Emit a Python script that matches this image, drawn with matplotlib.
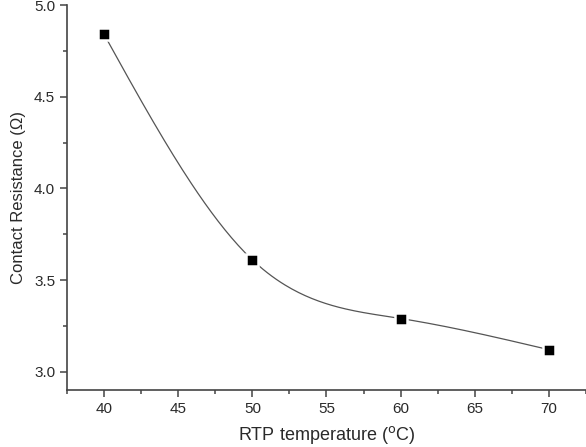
"""
Contact resistance vs RTP temperature
"""

import numpy as np
import matplotlib.pyplot as plt
from matplotlib.ticker import MultipleLocator

plt.rcParams["font.family"] = ["Liberation Sans", "DejaVu Sans"]

temperature = [40, 50, 60, 70]
resistance = [4.84, 3.61, 3.29, 3.12]


def natural_spline(x, y, n=200):
    # natural cubic spline through the measured points (for the smooth guide line)
    x = np.asarray(x, float)
    y = np.asarray(y, float)
    h = np.diff(x)
    m = len(x)
    A = np.zeros((m, m))
    b = np.zeros(m)
    A[0, 0] = A[-1, -1] = 1
    for i in range(1, m - 1):
        A[i, i - 1] = h[i - 1]
        A[i, i] = 2 * (h[i - 1] + h[i])
        A[i, i + 1] = h[i]
        b[i] = 6 * ((y[i + 1] - y[i]) / h[i] - (y[i] - y[i - 1]) / h[i - 1])
    M = np.linalg.solve(A, b)
    xs = np.linspace(x[0], x[-1], n)
    idx = np.clip(np.searchsorted(x, xs) - 1, 0, m - 2)
    x0, x1 = x[idx], x[idx + 1]
    hh = x1 - x0
    ys = (M[idx] * (x1 - xs) ** 3 / (6 * hh) + M[idx + 1] * (xs - x0) ** 3 / (6 * hh)
          + (y[idx] / hh - M[idx] * hh / 6) * (x1 - xs)
          + (y[idx + 1] / hh - M[idx + 1] * hh / 6) * (xs - x0))
    return xs, ys


fig = plt.figure(figsize=(5.86, 4.47), dpi=100)
ax = fig.add_axes([0.1143, 0.1275, 0.8857, 0.8613])

xs, ys = natural_spline(temperature, resistance)
ax.plot(xs, ys, color="#555555", linewidth=0.9, zorder=2)
ax.plot(temperature, resistance, "s", color="black", markersize=8,
        markeredgecolor="white", markeredgewidth=1.8, zorder=3)

ax.set_xlim(37.5, 72.5)
ax.set_ylim(2.9, 5.0)
ax.xaxis.set_major_locator(MultipleLocator(5))
ax.xaxis.set_minor_locator(MultipleLocator(2.5))
ax.yaxis.set_minor_locator(MultipleLocator(0.25))
ax.set_yticks([3.0, 3.5, 4.0, 4.5, 5.0])
ax.set_yticklabels(["3.0", "3.5", "4.0", "4.5", "5.0"])

for side in ["top", "right"]:
    ax.spines[side].set_visible(False)
for side in ["left", "bottom"]:
    ax.spines[side].set_color("#444444")
    ax.spines[side].set_linewidth(1.2)

ax.tick_params(which="major", direction="out", length=5, width=1.1,
               color="#444444", labelsize=11, labelcolor="#2a2a2a")
ax.tick_params(which="minor", direction="out", length=3, width=1.1, color="#444444")

ax.set_xlabel("RTP temperature ($^{\\mathrm{o}}$C)", fontsize=13, color="#2a2a2a", labelpad=6)
ax.set_ylabel("Contact Resistance (\u03a9)", fontsize=12, color="#2a2a2a", labelpad=6)

fig.savefig("out.png", dpi=100)
plt.close()
